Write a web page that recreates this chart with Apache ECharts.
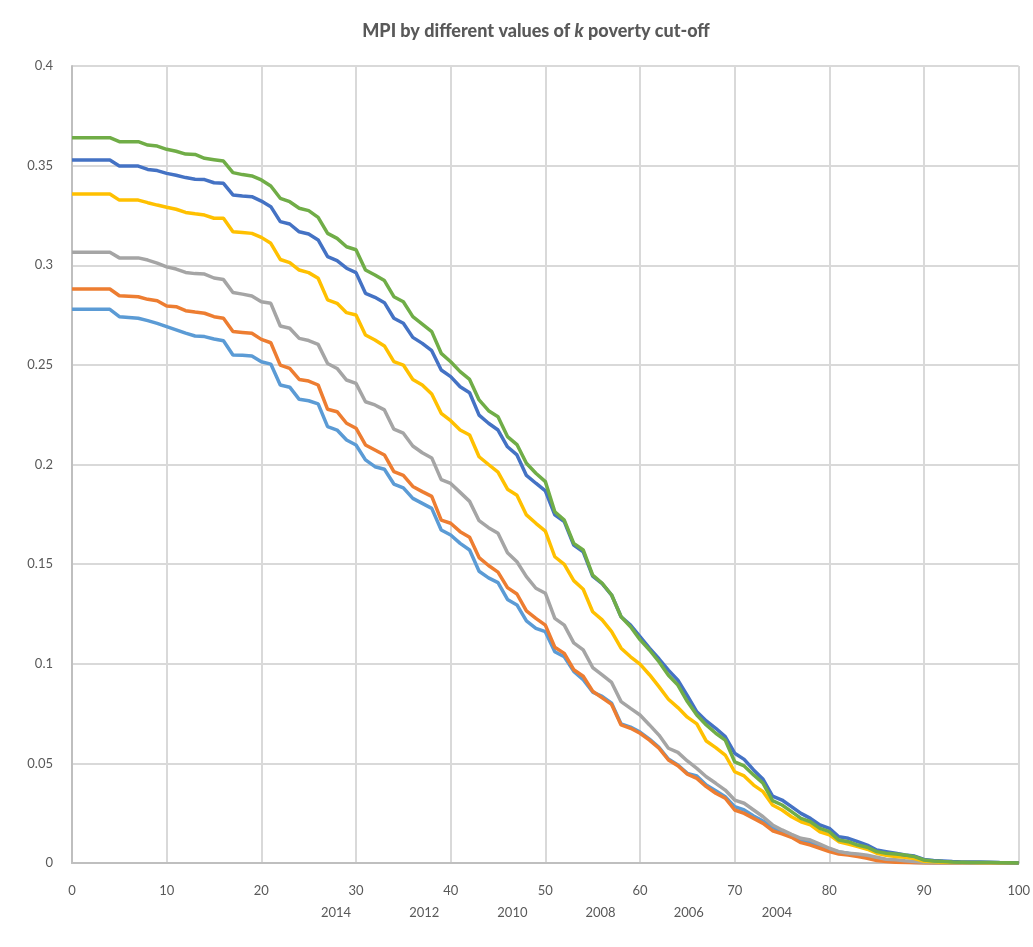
<!DOCTYPE html>
<html>
<head>
<meta charset="utf-8">
<script src="https://cdn.jsdelivr.net/npm/echarts@6/dist/echarts.min.js"></script>
<style>
html,body{margin:0;padding:0;background:#fff;}
#chart{width:1033px;height:947px;}
</style>
</head>
<body>
<div id="chart"></div>
<script>
// k poverty cut-off values (0..100)
var kValues = [];
for (var i = 0; i <= 100; i++) kValues.push(i);

var seriesNames = ['2014', '2012', '2010', '2008', '2006', '2004'];
var seriesColors = ['#5B9BD5', '#ED7D31', '#A5A5A5', '#FFC000', '#4472C4', '#70AD47'];

var mpi2014 = [
.2779,.2779,.2779,.2779,.2779,.2742,.2738,.2734,.2722,.2708,
.2692,.2676,.2659,.2645,.2642,.2630,.2621,.2550,.2548,.2545,
.2516,.2504,.2399,.2388,.2327,.2320,.2304,.2190,.2173,.2123,
.2098,.2023,.1989,.1976,.1902,.1883,.1830,.1805,.1780,.1671,
.1646,.1604,.1571,.1464,.1431,.1407,.1323,.1295,.1215,.1178,
.1161,.1060,.1035,.0962,.0920,.0858,.0836,.0802,.0698,.0682,
.0657,.0622,.0581,.0522,.0492,.0450,.0437,.0391,.0363,.0333,
.0283,.0266,.0236,.0211,.0179,.0157,.0141,.0115,.0102,.0085,
.0069,.0055,.0049,.0040,.0032,.0019,.0012,.0008,.0005,.0003,
.0001,0,0,0,0,0,0,0,0,0,
0];

var mpi2012 = [
.2881,.2881,.2881,.2881,.2881,.2847,.2845,.2842,.2829,.2822,
.2795,.2792,.2772,.2765,.2759,.2742,.2734,.2667,.2663,.2659,
.2628,.2611,.2499,.2482,.2427,.2419,.2399,.2277,.2265,.2207,
.2182,.2098,.2073,.2048,.1964,.1945,.1890,.1864,.1840,.1721,
.1705,.1663,.1635,.1533,.1493,.1460,.1382,.1350,.1265,.1228,
.1194,.1083,.1052,.0970,.0937,.0862,.0829,.0796,.0693,.0676,
.0651,.0617,.0576,.0517,.0488,.0446,.0425,.0383,.0350,.0325,
.0266,.0249,.0224,.0199,.0162,.0146,.0129,.0102,.0090,.0074,
.0057,.0045,.0040,.0032,.0024,.0012,.0007,.0004,.0002,.0001,
0,0,0,0,0,0,0,0,0,0,
0];

var mpi2010 = [
.3065,.3065,.3065,.3065,.3065,.3037,.3037,.3037,.3026,.3011,
.2992,.2981,.2964,.2958,.2956,.2936,.2928,.2863,.2855,.2846,
.2817,.2809,.2695,.2684,.2633,.2622,.2603,.2507,.2482,.2424,
.2407,.2315,.2299,.2274,.2177,.2157,.2093,.2059,.2033,.1924,
.1905,.1860,.1815,.1718,.1683,.1655,.1557,.1512,.1437,.1379,
.1354,.1228,.1194,.1105,.1070,.0981,.0944,.0906,.0810,.0776,
.0743,.0693,.0642,.0576,.0555,.0512,.0475,.0433,.0400,.0366,
.0316,.0300,.0266,.0232,.0191,.0166,.0144,.0124,.0115,.0095,
.0074,.0057,.0049,.0045,.0039,.0029,.0019,.0016,.0011,.0007,
.0004,.0003,.0002,.0001,.0001,0,0,0,0,0,
0];

var mpi2008 = [
.3358,.3358,.3358,.3358,.3358,.3327,.3327,.3327,.3314,.3302,
.3291,.3281,.3265,.3258,.3252,.3236,.3236,.3168,.3164,.3160,
.3140,.3110,.3029,.3013,.2976,.2963,.2935,.2826,.2809,.2762,
.2750,.2650,.2625,.2595,.2516,.2499,.2427,.2399,.2354,.2257,
.2220,.2173,.2148,.2039,.2000,.1962,.1876,.1846,.1747,.1705,
.1666,.1537,.1499,.1417,.1374,.1261,.1220,.1161,.1078,.1035,
.0998,.0945,.0885,.0822,.0780,.0732,.0698,.0612,.0579,.0542,
.0458,.0437,.0391,.0358,.0291,.0266,.0232,.0207,.0191,.0157,
.0141,.0107,.0095,.0082,.0069,.0049,.0039,.0032,.0029,.0022,
.0009,.0006,.0004,.0003,.0002,.0002,.0001,.0001,0,0,
0];

var mpi2006 = [
.3528,.3528,.3528,.3528,.3528,.3498,.3498,.3498,.3481,.3475,
.3461,.3452,.3440,.3432,.3430,.3414,.3411,.3353,.3348,.3344,
.3322,.3294,.3219,.3207,.3168,.3157,.3127,.3043,.3023,.2985,
.2963,.2859,.2839,.2812,.2734,.2709,.2638,.2608,.2571,.2474,
.2441,.2390,.2360,.2248,.2207,.2173,.2089,.2048,.1945,.1906,
.1868,.1747,.1713,.1596,.1562,.1440,.1402,.1345,.1236,.1194,
.1136,.1078,.1025,.0968,.0918,.0840,.0759,.0713,.0676,.0634,
.0551,.0520,.0467,.0420,.0336,.0316,.0283,.0249,.0224,.0191,
.0174,.0132,.0124,.0107,.0090,.0065,.0057,.0049,.0040,.0035,
.0018,.0012,.0010,.0007,.0005,.0005,.0005,.0004,.0002,.0001,
0];

var mpi2004 = [
.3640,.3640,.3640,.3640,.3640,.3620,.3620,.3620,.3603,.3598,
.3582,.3572,.3558,.3556,.3537,.3530,.3523,.3465,.3455,.3448,
.3428,.3398,.3336,.3319,.3286,.3274,.3240,.3160,.3135,.3093,
.3078,.2976,.2951,.2923,.2842,.2817,.2742,.2705,.2667,.2558,
.2516,.2466,.2427,.2324,.2270,.2240,.2140,.2100,.2006,.1956,
.1914,.1763,.1721,.1604,.1571,.1445,.1404,.1345,.1236,.1186,
.1121,.1069,.1010,.0942,.0893,.0810,.0743,.0693,.0651,.0617,
.0508,.0487,.0442,.0400,.0313,.0291,.0258,.0224,.0207,.0174,
.0157,.0115,.0107,.0090,.0079,.0057,.0049,.0045,.0040,.0032,
.0015,.0010,.0007,.0005,.0004,.0003,.0002,.0002,.0001,.0001,
0];

var seriesValues = [mpi2014, mpi2012, mpi2010, mpi2008, mpi2006, mpi2004];

var FONT = 'Lato, "Noto Sans", sans-serif';

var chart = echarts.init(document.getElementById('chart'), null, {renderer: 'canvas'});

var series = seriesNames.map(function (name, idx) {
  return {
    name: name,
    type: 'line',
    data: kValues.map(function (k, j) { return [k, seriesValues[idx][j]]; }),
    showSymbol: false,
    symbol: 'none',
    lineStyle: {color: seriesColors[idx], width: 3.5},
    itemStyle: {color: seriesColors[idx]},
    z: 2 + idx,
    animation: false
  };
});

chart.setOption({
  backgroundColor: '#ffffff',
  animation: false,
  title: {
    text: '{a|MPI by different values of }{i|k}{a| poverty cut-off}',
    left: 531,
    textAlign: 'center',
    top: 17,
    textStyle: {
      rich: {
        a: {fontFamily: FONT, fontSize: 18, fontWeight: 900, color: '#595959'},
        i: {fontFamily: FONT, fontSize: 18, fontWeight: 900, fontStyle: 'italic', color: '#595959'}
      }
    }
  },
  legend: {
    data: seriesNames,
    left: 311,
    top: 901,
    icon: 'rect',
    itemWidth: 0,
    itemHeight: 0,
    itemGap: 53,
    textStyle: {fontFamily: FONT, fontSize: 13, color: '#595959'}
  },
  grid: {left: 72, right: 13, top: 66, bottom: 84, containLabel: false},
  xAxis: {
    type: 'value',
    min: 0,
    max: 100,
    interval: 10,
    axisLine: {show: true, onZero: false, lineStyle: {color: '#bfbfbf', width: 2}},
    axisTick: {show: false},
    axisLabel: {fontFamily: FONT, fontSize: 13, color: '#595959', margin: 21},
    splitLine: {show: true, lineStyle: {color: '#d9d9d9', width: 2}}
  },
  yAxis: {
    type: 'value',
    min: 0,
    max: 0.4,
    interval: 0.05,
    axisLine: {show: true, lineStyle: {color: '#bfbfbf', width: 2}},
    axisTick: {show: false},
    axisLabel: {fontFamily: FONT, fontSize: 13, color: '#595959', margin: 19},
    splitLine: {show: true, lineStyle: {color: '#d9d9d9', width: 2}}
  },
  series: series
});
</script>
</body>
</html>
